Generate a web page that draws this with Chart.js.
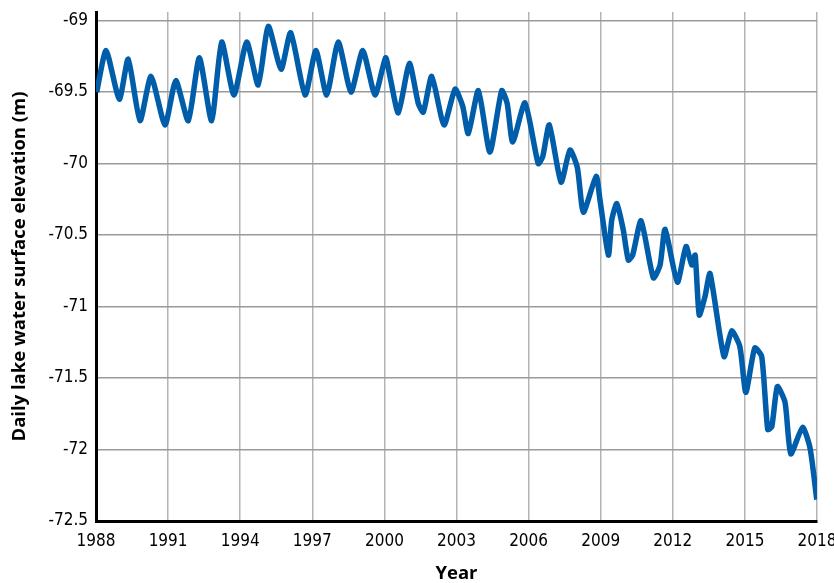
<!DOCTYPE html>
<html><head><meta charset="utf-8">
<script src="https://cdn.jsdelivr.net/npm/chart.js@4.4.1/dist/chart.umd.min.js"></script>
<style>html,body{margin:0;padding:0;background:#fff}#wrap{width:834px;height:583px;position:relative}</style>
</head><body><div id="wrap"><canvas id="c"></canvas></div>
<script>
const years = [1988.03,1988.42,1988.97,1989.34,1989.83,1990.29,1990.87,1991.32,1991.84,1992.30,1992.81,
  1993.23,1993.74,1994.27,1994.75,1995.17,1995.70,1996.10,1996.70,1997.15,1997.60,1998.08,1998.61,1999.10,1999.61,
  2000.05,2000.23,2000.58,2001.04,2001.41,2001.62,2001.97,2002.48,2002.94,2003.26,2003.49,2003.91,2004.39,2004.88,2005.11,
  2005.34,2005.85,2006.40,2006.59,2006.86,2007.35,2007.72,2008.03,2008.28,2008.81,2008.97,2009.32,2009.46,2009.67,2009.94,
  2010.15,2010.33,2010.68,2011.19,2011.47,2011.68,2012.19,2012.55,2012.79,2012.93,2013.10,2013.34,2013.55,2014.13,2014.45,
  2014.79,2015.04,2015.41,2015.70,2015.95,2016.12,2016.35,2016.67,2016.91,2017.40,2017.71,2017.99];
const levels = [-69.50,-69.21,-69.55,-69.27,-69.70,-69.39,-69.73,-69.42,-69.70,-69.26,-69.70,
  -69.15,-69.52,-69.15,-69.45,-69.04,-69.34,-69.085,-69.52,-69.21,-69.52,-69.15,-69.50,-69.21,-69.52,
  -69.26,-69.39,-69.645,-69.30,-69.58,-69.64,-69.39,-69.73,-69.48,-69.60,-69.79,-69.49,-69.92,-69.49,-69.58,
  -69.85,-69.575,-70.00,-69.95,-69.73,-70.13,-69.905,-70.03,-70.34,-70.09,-70.255,-70.64,-70.395,-70.28,-70.465,
  -70.675,-70.64,-70.40,-70.80,-70.71,-70.46,-70.83,-70.58,-70.71,-70.64,-71.06,-70.93,-70.77,-71.35,-71.17,
  -71.28,-71.60,-71.29,-71.35,-71.86,-71.84,-71.56,-71.67,-72.03,-71.845,-71.99,-72.35];
const xTickValues = [1988,1991,1994,1997,2000,2003,2006,2009,2012,2015,2018];
const yTickValues = [-69,-69.5,-70,-70.5,-71,-71.5,-72,-72.5];
const xTitle = 'Year';
const yTitle = 'Daily lake water surface elevation (m)';

const points = years.map((x,i)=>({x:x,y:levels[i]}));
const tickFont = {family:"'Liberation Sans Narrow','Arial Narrow','DejaVu Sans Condensed',sans-serif", size:17};
const titleFont = {family:"'Open Sans','Noto Sans',sans-serif", size:18.5, weight:'bold', lineHeight:1};

new Chart(document.getElementById('c'), {
  type:'line',
  data:{datasets:[{data:points, borderColor:'#005DAA', borderWidth:5.5, pointRadius:0,
    tension:0.2, borderJoinStyle:'round', borderCapStyle:'butt', fill:false}]},
  options:{
    responsive:true, maintainAspectRatio:false, animation:false,
    layout:{padding:{top:12,right:17,left:0,bottom:0}},
    plugins:{legend:{display:false}, tooltip:{enabled:false}},
    scales:{
      x:{type:'linear', min:1988, max:2018,
        afterBuildTicks:s=>{s.ticks = xTickValues.map(v=>({value:v}));},
        afterFit:s=>{s.height = 62; s.paddingLeft = 0; s.paddingRight = 0;},
        ticks:{font:tickFont, color:'#000', padding:10, maxRotation:0, autoSkip:false, callback:v=>String(v)},
        grid:{color:'#b4b4b4', lineWidth:1.5, drawTicks:false},
        border:{color:'#000', width:3},
        title:{display:true, text:xTitle, color:'#000', font:titleFont, padding:{top:0,bottom:0}}
      },
      y:{type:'linear', min:-72.5, max:-68.94,
        afterBuildTicks:s=>{s.ticks = yTickValues.map(v=>({value:v}));},
        afterFit:s=>{s.width = 96; s.paddingTop = 0; s.paddingBottom = 0;},
        ticks:{font:tickFont, color:'#000', padding:8, autoSkip:false, callback:v=>String(v)},
        grid:{color:'#9a9a9a', lineWidth:1.5, drawTicks:false},
        border:{color:'#000', width:3},
        title:{display:true, text:yTitle, color:'#000', font:titleFont, padding:{top:10,bottom:0}}
      }
    }
  }
});
</script></body></html>
